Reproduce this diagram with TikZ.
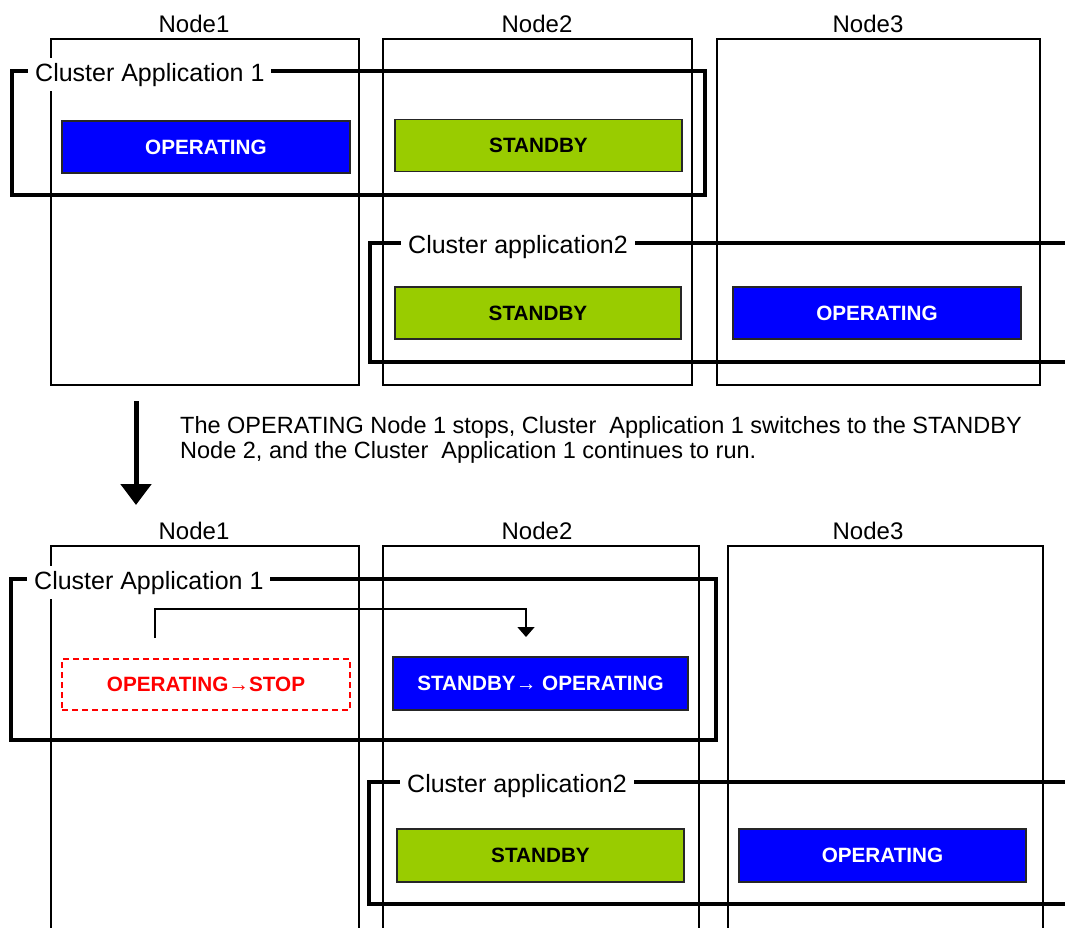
\documentclass[tikz,border=0pt]{standalone}
\usepackage{fontspec}
\setmainfont{Liberation Sans}
\usetikzlibrary{arrows.meta}
\definecolor{opblue}{HTML}{0000FF}
\definecolor{sbgreen}{HTML}{99CC00}
\definecolor{stopred}{HTML}{FF0000}
\tikzset{
  hostbox/.style={draw=black, line width=1.3pt, inner sep=0pt},
  hostlbl/.style={font=\fontsize{24}{26}\selectfont, inner sep=0pt, anchor=base},
  appframe/.style={draw=black, line width=3.2pt},
  applbl/.style={font=\fontsize{25}{27}\selectfont, fill=white, inner xsep=7pt, inner ysep=5pt, anchor=base west},
  statebox/.style={draw=black!85, line width=1.3pt, minimum width=#1, minimum height=52pt, inner sep=0pt,
     font=\fontsize{20.7}{22}\selectfont\bfseries},
  opstate/.style={statebox=#1, fill=opblue, text=white},
  sbstate/.style={statebox=#1, fill=sbgreen, text=black},
  stopstate/.style={statebox=#1, draw=stopred, dashed, dash pattern=on 6pt off 4pt, fill=white, text=stopred},
  bigarrow/.style={line width=5pt, -{Triangle[width=30pt,length=21pt]}},
  movearrow/.style={line width=1.5pt, -{Triangle[width=17pt,length=10pt]}},
  note/.style={font=\fontsize{23.5}{25}\selectfont, align=left, inner sep=0pt, anchor=base west}
}
\begin{document}
\begin{tikzpicture}[x=1pt,y=-1pt]
\useasboundingbox (0,0) rectangle (1065,927);
% ---------- top half ----------
\node[hostbox, minimum width=308pt, minimum height=346pt] (t1) at (205,212) {};
\node[hostbox, minimum width=309pt, minimum height=346pt] (t2) at (537.5,212) {};
\node[hostbox, minimum width=323pt, minimum height=346pt] (t3) at (878.5,212) {};
\node[hostlbl] (t1l) at (194,32) {Node1};
\node[hostlbl] (t2l) at (537,32) {Node2};
\node[hostlbl] (t3l) at (868,32) {Node3};

\draw[appframe] (12,71) rectangle (705,195);
\node[applbl] (tca1) at (28,81) {Cluster Application 1};
\draw[appframe] (370,243) rectangle (1090,362);
\node[applbl] (tca2) at (401,253) {Cluster application2};

\node[opstate=288pt] (top1) at (206,147) {OPERATING};
\node[sbstate=287pt] (tsb2) at (538.5,145.5) {STANDBY};
\node[sbstate=286pt] (tsb2b) at (538,313) {STANDBY};
\node[opstate=288pt] (top3) at (877,313) {OPERATING};

% ---------- transition ----------
\coordinate (ba) at (136,401);
\coordinate (bb) at (136,505);
\draw[bigarrow] (ba) -- (bb);
\node[note] (msg) at (180,458) {The OPERATING Node 1 stops, Cluster~ Application 1 switches to the STANDBY\\Node 2, and the Cluster~ Application 1 continues to run.};

% ---------- bottom half ----------
\node[hostbox, minimum width=308pt, minimum height=400pt] (b1) at (205,746) {};
\node[hostbox, minimum width=316pt, minimum height=400pt] (b2) at (541,746) {};
\node[hostbox, minimum width=315pt, minimum height=400pt] (b3) at (885.5,746) {};
\node[hostlbl] (b1l) at (194,539) {Node1};
\node[hostlbl] (b2l) at (537,539) {Node2};
\node[hostlbl] (b3l) at (868,539) {Node3};

\draw[appframe] (11,579) rectangle (716,740);
\node[applbl] (bca1) at (27,589) {Cluster Application 1};
\draw[appframe] (369,782) rectangle (1090,904);
\node[applbl] (bca2) at (400,792) {Cluster application2};

\node[stopstate=288pt, minimum height=51pt] (bstop) at (206,684.5) {OPERATING→STOP};
\node[opstate=295pt, minimum height=53pt] (bsbop) at (540.5,683.5) {STANDBY→ OPERATING};
\node[sbstate=287pt, minimum height=53pt] (bsb2) at (540.5,855.5) {STANDBY};
\node[opstate=287pt, minimum height=53pt] (bop3) at (882.5,855.5) {OPERATING};

\coordinate (ms) at (155,638);
\coordinate (me) at (526,637);
\draw[movearrow] (ms) |- (340,609) -| (me);
\end{tikzpicture}
\end{document}
